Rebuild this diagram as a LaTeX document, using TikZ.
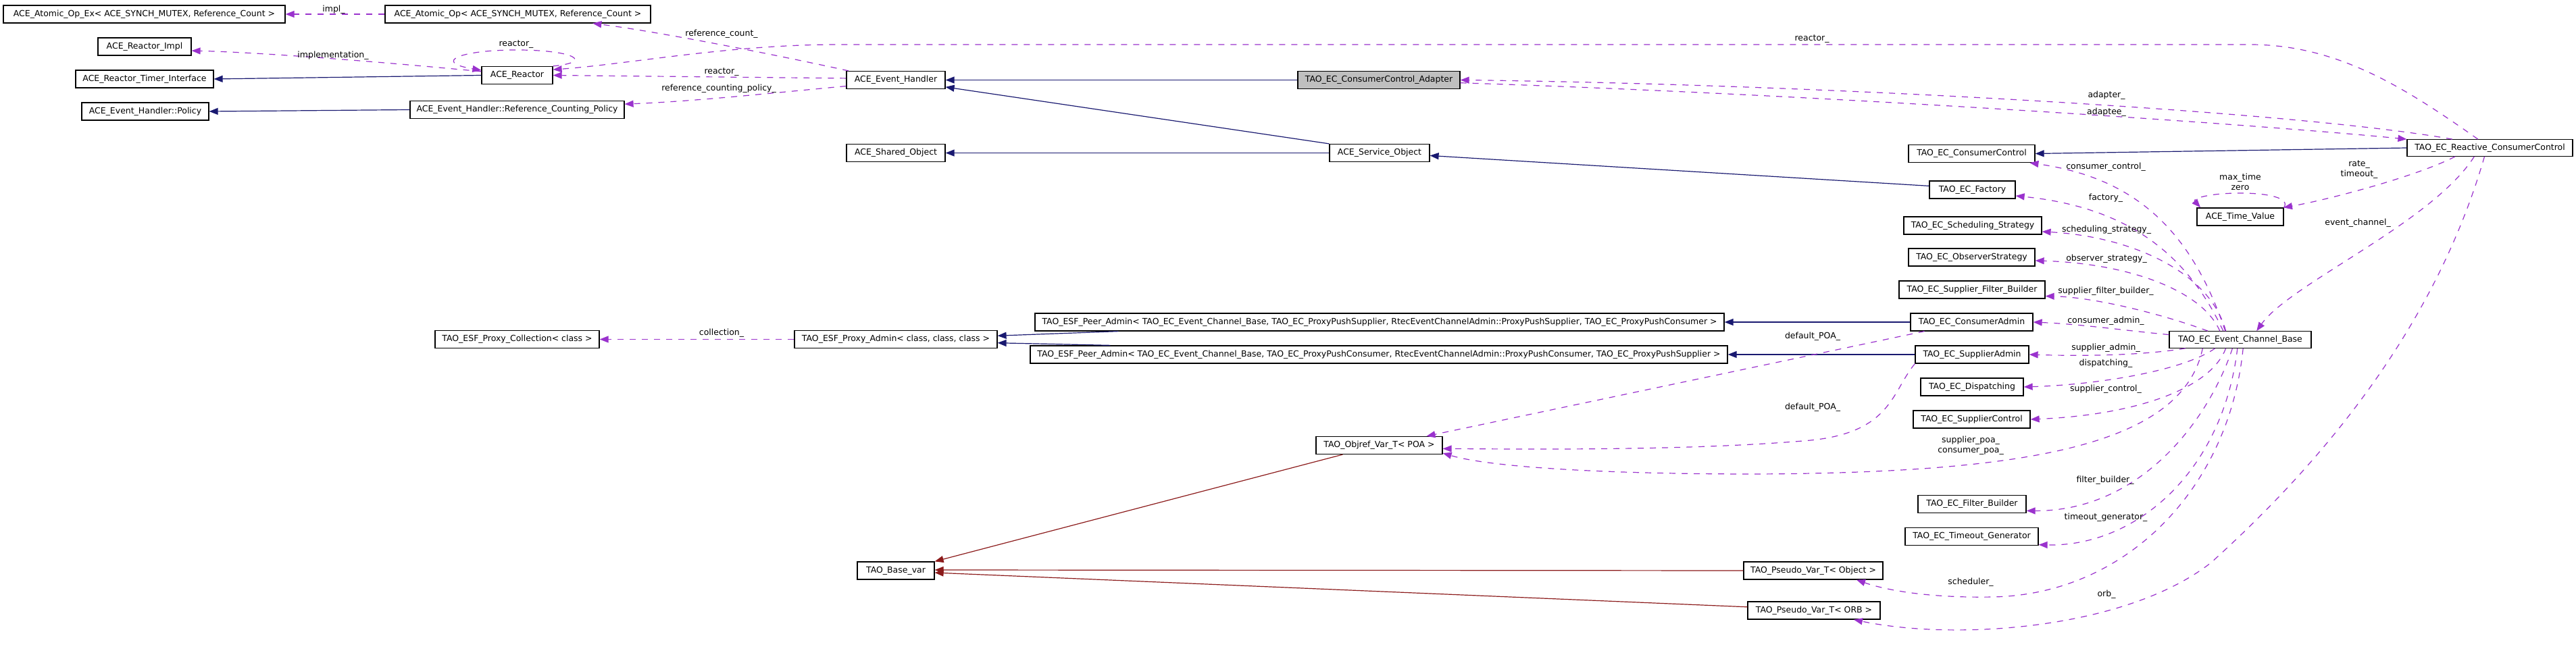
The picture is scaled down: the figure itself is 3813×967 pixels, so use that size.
\documentclass[tikz,border=0pt]{standalone}
\usepackage{fontspec}
\setmainfont{DejaVu Sans}
\usetikzlibrary{arrows.meta,calc}
\definecolor{inhblue}{HTML}{191970}
\definecolor{privred}{HTML}{8B1A1A}
\definecolor{usepurple}{HTML}{9A32CD}
\definecolor{focusgray}{HTML}{BFBFBF}
\newcommand{\dfont}{\fontsize{3.55}{4.3}\selectfont}
\tikzset{
  cls/.style={draw=black, line width=0.12mm, inner sep=0pt, minimum height=2.6mm, font=\dfont},
  lbl/.style={inner sep=0pt, font=\dfont, align=center},
  inh/.style={draw=inhblue, line width=0.12mm, -{Triangle[length=1.3mm,width=1mm]}},
  priv/.style={draw=privred, line width=0.12mm, -{Triangle[length=1.3mm,width=1mm]}},
  member/.style={draw=usepurple, line width=0.12mm, dash pattern=on 0.9mm off 0.9mm, -{Triangle[length=1.3mm,width=1mm]}},
}

\begin{document}
\begin{tikzpicture}[x=0.1mm,y=-0.1mm]
  \useasboundingbox (0,0) rectangle (3813,967);

  \node[cls, minimum width=41.7mm] (atomicex) at (213.5,21) {ACE\_Atomic\_Op\_Ex< ACE\_SYNCH\_MUTEX, Reference\_Count >};
  \node[cls, minimum width=39.3mm] (atomicop) at (766.5,21) {ACE\_Atomic\_Op< ACE\_SYNCH\_MUTEX, Reference\_Count >};
  \node[cls, minimum width=13.8mm] (reactorimpl) at (214,69) {ACE\_Reactor\_Impl};
  \node[cls, minimum width=20.4mm] (timerif) at (214,117) {ACE\_Reactor\_Timer\_Interface};
  \node[cls, minimum width=18.8mm] (policy) at (215,165) {ACE\_Event\_Handler::Policy};
  \node[cls, minimum width=10.5mm] (reactor) at (765.5,111.5) {ACE\_Reactor};
  \node[cls, minimum width=31.7mm] (refpolicy) at (765.5,162.5) {ACE\_Event\_Handler::Reference\_Counting\_Policy};
  \node[cls, minimum width=24.3mm] (proxycoll) at (765.5,502.5) {TAO\_ESF\_Proxy\_Collection< class >};
  \node[cls, minimum width=14.6mm] (evhandler) at (1326,118.5) {ACE\_Event\_Handler};
  \node[cls, minimum width=14.6mm] (sharedobj) at (1326,226.5) {ACE\_Shared\_Object};
  \node[cls, minimum width=30mm] (proxyadmin) at (1326,502.5) {TAO\_ESF\_Proxy\_Admin< class, class, class >};
  \node[cls, minimum width=11.4mm] (basevar) at (1326,845) {TAO\_Base\_var};
  \node[cls, fill=focusgray, minimum width=24mm] (adapter) at (2041,118.5) {TAO\_EC\_ConsumerControl\_Adapter};
  \node[cls, minimum width=14.8mm] (serviceobj) at (2042,226.5) {ACE\_Service\_Object};
  \node[cls, minimum width=102mm] (peersupp) at (2042,477) {TAO\_ESF\_Peer\_Admin< TAO\_EC\_Event\_Channel\_Base, TAO\_EC\_ProxyPushSupplier, RtecEventChannelAdmin::ProxyPushSupplier, TAO\_EC\_ProxyPushConsumer >};
  \node[cls, minimum width=103.2mm] (peercons) at (2041,525) {TAO\_ESF\_Peer\_Admin< TAO\_EC\_Event\_Channel\_Base, TAO\_EC\_ProxyPushConsumer, RtecEventChannelAdmin::ProxyPushConsumer, TAO\_EC\_ProxyPushSupplier >};
  \node[cls, minimum width=18.7mm] (objref) at (2041.5,659.5) {TAO\_Objref\_Var\_T< POA >};
  \node[cls, minimum width=20.6mm] (pseudoobj) at (2684,845) {TAO\_Pseudo\_Var\_T< Object >};
  \node[cls, minimum width=19.6mm] (pseudoorb) at (2685,904) {TAO\_Pseudo\_Var\_T< ORB >};
  \node[cls, minimum width=18.7mm] (consctl) at (2918.5,227.5) {TAO\_EC\_ConsumerControl};
  \node[cls, minimum width=12.7mm] (factory) at (2919.5,281) {TAO\_EC\_Factory};
  \node[cls, minimum width=20.4mm] (schedstrat) at (2920,334) {TAO\_EC\_Scheduling\_Strategy};
  \node[cls, minimum width=18.7mm] (observer) at (2918.5,381) {TAO\_EC\_ObserverStrategy};
  \node[cls, minimum width=21.6mm] (suppfilter) at (2919,429) {TAO\_EC\_Supplier\_Filter\_Builder};
  \node[cls, minimum width=18.1mm] (consadmin) at (2918.5,477) {TAO\_EC\_ConsumerAdmin};
  \node[cls, minimum width=16.8mm] (suppadmin) at (2919,525) {TAO\_EC\_SupplierAdmin};
  \node[cls, minimum width=15.2mm] (dispatching) at (2919,573) {TAO\_EC\_Dispatching};
  \node[cls, minimum width=17.3mm] (suppctl) at (2918.5,621) {TAO\_EC\_SupplierControl};
  \node[cls, minimum width=16mm] (filterbuilder) at (2919,746.5) {TAO\_EC\_Filter\_Builder};
  \node[cls, minimum width=19.7mm] (timeoutgen) at (2918.5,794.5) {TAO\_EC\_Timeout\_Generator};
  \node[cls, minimum width=12.8mm] (timevalue) at (3316,321) {ACE\_Time\_Value};
  \node[cls, minimum width=21mm, minimum height=2.45mm] (ecbase) at (3316,503) {TAO\_EC\_Event\_Channel\_Base};
  \node[cls, minimum width=24.5mm, minimum height=2.45mm] (reactive) at (3685.5,219) {TAO\_EC\_Reactive\_ConsumerControl};

  \draw[inh] (reactor.west) -- (timerif.east);
  \draw[inh] (refpolicy.west) -- (policy.east);
  \draw[inh] (adapter.west) -- (evhandler.east);
  \draw[inh] (serviceobj.north west) -- (evhandler.-8);
  \draw[inh] (serviceobj.west) -- (sharedobj.east);
  \draw[inh] (factory.175) -- (serviceobj.-3);
  \draw[inh] (reactive.west) -- (consctl.east);
  \draw[inh] ($(peersupp.south west)+(124,0)$) -- (proxyadmin.2);
  \draw[inh] ($(peercons.north west)+(119,0)$) -- (proxyadmin.-2);
  \draw[inh] (consadmin.west) -- (peersupp.east);
  \draw[inh] (suppadmin.west) -- (peercons.east);
  \draw[priv] ($(objref.south west)+(40,0)$) -- (basevar.north east);
  \draw[priv] (pseudoobj.west) -- (basevar.1);
  \draw[priv] (pseudoorb.177) -- (basevar.-3);

  \draw[member] (atomicop.west) -- (atomicex.east);
  \draw[member] (reactor.174) .. controls (600,95) and (400,78) .. (reactorimpl.-5);
  \draw[member] (reactor.north east) .. controls (880,92) and (850,74) .. (765,74)
    .. controls (680,74) and (640,92) .. (reactor.172);
  \draw[member] (evhandler.169) .. controls (1120,75) and (960,45) .. (atomicop.-7);
  \draw[member] (evhandler.178) -- (reactor.east);
  \draw[member] (evhandler.187) .. controls (1150,137) and (1030,150) .. (refpolicy.3);
  \draw[member] (reactive.144) .. controls (3560,130) and (3460,66) .. (3330,66) -- (1240,66)
    .. controls (1080,66) and (930,95) .. (reactor.9);
  \draw[member] (reactive.167) .. controls (3400,165) and (2700,125) .. (adapter.east);
  \draw[member] (adapter.-2) .. controls (2700,140) and (3350,185) .. (reactive.north west);
  \draw[member] (proxyadmin.west) -- (proxycoll.east);
  \draw[member] (timevalue.north east) .. controls (3390,294) and (3360,286) .. (3316,286)
    .. controls (3270,286) and (3245,294) .. (timevalue.167);
  \draw[member] (reactive.-166) .. controls (3580,260) and (3450,295) .. (timevalue.12);
  \draw[member] (reactive.-151) .. controls (3600,330) and (3390,420) .. (ecbase.28);
  \draw[member] (reactive.-122) .. controls (3600,500) and (3420,700) .. (3273,833)
    .. controls (3150,930) and (2900,950) .. (pseudoorb.-13);
  \draw[member] (ecbase.150) .. controls (3240,330) and (3150,262) .. (consctl.-9);
  \draw[member] (ecbase.153) .. controls (3230,360) and (3130,305) .. (factory.-8);
  \draw[member] (ecbase.149) .. controls (3270,400) and (3150,350) .. (schedstrat.-5);
  \draw[member] (ecbase.157) .. controls (3260,430) and (3150,390) .. (observer.-3);
  \draw[member] (ecbase.165) .. controls (3200,465) and (3100,440) .. (suppfilter.-5);
  \draw[member] (ecbase.176) .. controls (3150,490) and (3080,480) .. (consadmin.east);
  \draw[member] (ecbase.-171) .. controls (3180,525) and (3100,528) .. (suppadmin.east);
  \draw[member] (ecbase.-161) .. controls (3230,550) and (3100,570) .. (dispatching.east);
  \draw[member] (ecbase.-149) .. controls (3270,580) and (3150,615) .. (suppctl.east);
  \draw[member] (ecbase.-167) .. controls (3230,660) and (3000,700) .. (2600,702)
    .. controls (2350,702) and (2200,690) .. (objref.-7);
  \draw[member] (consadmin.-169) -- (objref.11);
  \draw[member] (suppadmin.south west) .. controls (2800,580) and (2800,640) .. (2680,652)
    .. controls (2500,668) and (2250,665) .. (objref.-3);
  \draw[member] (ecbase.-132) .. controls (3270,620) and (3170,757) .. (filterbuilder.-7);
  \draw[member] (ecbase.-108) .. controls (3290,700) and (3160,810) .. (timeoutgen.-7);
  \draw[member] (ecbase.-72) .. controls (3300,720) and (3150,880) .. (2950,884)
    .. controls (2840,886) and (2780,870) .. (pseudoobj.-12);

  \node[lbl] (l-impl) at (494,14) {impl\_};
  \node[lbl] (l-implementation) at (493,82) {implementation\_};
  \node[lbl] (l-selfreactor) at (764,66) {reactor\_};
  \node[lbl] (l-refcount) at (1068,50) {reference\_count\_};
  \node[lbl] (l-ehreactor) at (1068,107) {reactor\_};
  \node[lbl] (l-refpolicy) at (1064,131) {reference\_counting\_policy\_};
  \node[lbl] (l-collection) at (1068,493) {collection\_};
  \node[lbl] (l-topreactor) at (2682,58) {reactor\_};
  \node[lbl] (l-adapter) at (3118,141) {adapter\_};
  \node[lbl] (l-adaptee) at (3118,166) {adaptee\_};
  \node[lbl] (l-consctl) at (3117,247) {consumer\_control\_};
  \node[lbl] (l-factory) at (3117,293) {factory\_};
  \node[lbl] (l-maxtime) at (3316,269) {max\_time\\zero};
  \node[lbl] (l-rate) at (3492,251.5) {rate\_\\timeout\_};
  \node[lbl] (l-evchannel) at (3490,330) {event\_channel\_};
  \node[lbl] (l-sched) at (3118,340) {scheduling\_strategy\_};
  \node[lbl] (l-observer) at (3118,383) {observer\_strategy\_};
  \node[lbl] (l-suppfilter) at (3117,431) {supplier\_filter\_builder\_};
  \node[lbl] (l-consadmin) at (3117,475) {consumer\_admin\_};
  \node[lbl] (l-suppadmin) at (3117,515) {supplier\_admin\_};
  \node[lbl] (l-dispatching) at (3117,538) {dispatching\_};
  \node[lbl] (l-suppctl) at (3117,576) {supplier\_control\_};
  \node[lbl] (l-poa1) at (2683,498) {default\_POA\_};
  \node[lbl] (l-poa2) at (2683,603) {default\_POA\_};
  \node[lbl] (l-poas) at (2917,660) {supplier\_poa\_\\consumer\_poa\_};
  \node[lbl] (l-filter) at (3116,711) {filter\_builder\_};
  \node[lbl] (l-timeout) at (3117,766) {timeout\_generator\_};
  \node[lbl] (l-scheduler) at (2917,862) {scheduler\_};
  \node[lbl] (l-orb) at (3118,880) {orb\_};
\end{tikzpicture}
\end{document}
